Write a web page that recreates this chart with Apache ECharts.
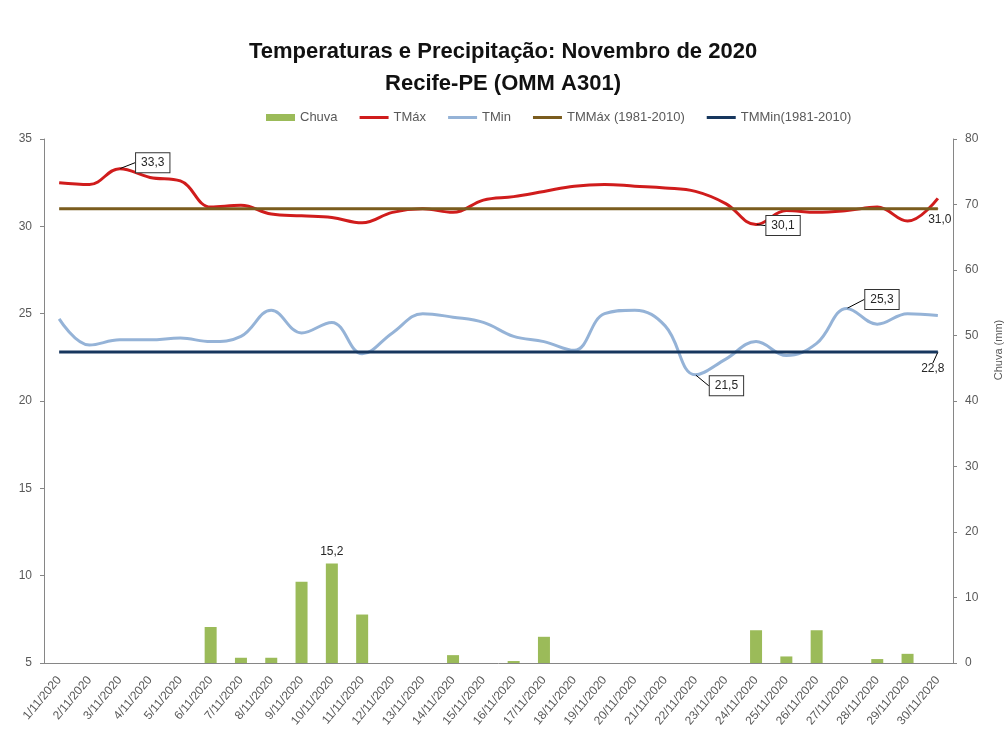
<!DOCTYPE html>
<html>
<head>
    <meta charset="utf-8">
    <title>Temperaturas e Precipitação: Novembro de 2020</title>
    <script src="https://cdn.jsdelivr.net/npm/echarts@6/dist/echarts.min.js"></script>
</head>
<body style="margin:0">
    <div id="container" style="width:1006px;height:735px;"></div>
    <script type="text/javascript">
        // dias do mes
        var dias = ['1/11/2020', '2/11/2020', '3/11/2020', '4/11/2020', '5/11/2020', '6/11/2020',
            '7/11/2020', '8/11/2020', '9/11/2020', '10/11/2020', '11/11/2020', '12/11/2020',
            '13/11/2020', '14/11/2020', '15/11/2020', '16/11/2020', '17/11/2020', '18/11/2020',
            '19/11/2020', '20/11/2020', '21/11/2020', '22/11/2020', '23/11/2020', '24/11/2020',
            '25/11/2020', '26/11/2020', '27/11/2020', '28/11/2020', '29/11/2020', '30/11/2020'];
        // chuva (mm)
        var chuva = [0, 0, 0, 0, 0, 5.5, 0.8, 0.8, 12.4, 15.2, 7.4, 0, 0, 1.2, 0,
            0.3, 4.0, 0, 0, 0, 0, 0, 0, 5.0, 1.0, 5.0, 0, 0.6, 1.4, 0];
        // temperatura maxima
        var tmax = [32.5, 32.4, 33.3, 32.8, 32.6, 31.1, 31.2, 30.7, 30.6, 30.5, 30.2, 30.8, 31.0, 30.8, 31.5,
            31.7, 32.0, 32.3, 32.4, 32.3, 32.2, 32.0, 31.3, 30.1, 30.9, 30.8, 30.9, 31.1, 30.3, 31.6];
        // temperatura minima
        var tmin = [24.7, 23.2, 23.5, 23.5, 23.6, 23.4, 23.7, 25.2, 23.9, 24.5, 22.7, 23.9, 25.0, 24.8, 24.5,
            23.7, 23.4, 22.9, 25.0, 25.2, 24.3, 21.5, 22.4, 23.4, 22.6, 23.3, 25.3, 24.4, 25.0, 24.9];
        // normais 1981-2010
        var tmmax = [31.0, 31.0, 31.0, 31.0, 31.0, 31.0, 31.0, 31.0, 31.0, 31.0, 31.0, 31.0, 31.0, 31.0, 31.0,
            31.0, 31.0, 31.0, 31.0, 31.0, 31.0, 31.0, 31.0, 31.0, 31.0, 31.0, 31.0, 31.0, 31.0, 31.0];
        var tmmin = [22.8, 22.8, 22.8, 22.8, 22.8, 22.8, 22.8, 22.8, 22.8, 22.8, 22.8, 22.8, 22.8, 22.8, 22.8,
            22.8, 22.8, 22.8, 22.8, 22.8, 22.8, 22.8, 22.8, 22.8, 22.8, 22.8, 22.8, 22.8, 22.8, 22.8];
        var eixoTemp = [5, 35, 5];
        var eixoChuva = [0, 80, 10];

        var fonte = 'Liberation Sans, Arial, sans-serif';
        var cinza = '#595959';
        var iconeLinha = 'path://M0,0L29,0L29,3L0,3Z';

        function virgula(p) {
            return Number(p.value).toFixed(1).replace('.', ',');
        }

        var caixa = {
            show: true, position: 'inside', formatter: virgula,
            fontFamily: fonte, fontSize: 12, color: '#262626',
            backgroundColor: '#fff', borderColor: '#333', borderWidth: 1, padding: [4, 5, 3, 5]
        };
        var solto = {
            show: true, position: 'inside', formatter: virgula,
            fontFamily: fonte, fontSize: 12, color: '#262626'
        };

        // marca so os pontos com rotulo
        function rotular(valores, idx, estilo) {
            return valores.map(function (v, i) {
                if (idx.indexOf(i) < 0) return v;
                return { value: v, symbol: 'circle', symbolSize: 1, label: estilo };
            });
        }

        // deslocamento dos rotulos [serie][indice]
        var desloc = {
            1: { 2: [33, -6], 23: [27, 1] },
            2: { 26: [35, -9], 21: [31, 11] },
            3: { 29: [2, 11] },
            4: { 29: [-5, 17] }
        };

        var myContainer = echarts.init(document.getElementById('container'));
        myContainer.setOption({
            animation: false,
            title: {
                text: 'Temperaturas e Precipitação: Novembro de 2020\nRecife-PE (OMM A301)',
                left: 'center',
                top: 31,
                textStyle: { fontFamily: fonte, fontSize: 22, fontWeight: 'bold', color: '#111', lineHeight: 32 }
            },
            legend: {
                left: 261,
                top: 106,
                itemWidth: 29,
                itemHeight: 7,
                itemGap: 22,
                textStyle: { fontFamily: fonte, fontSize: 13, color: cinza },
                data: [
                    { name: 'Chuva', icon: 'rect' },
                    { name: 'TMáx', icon: iconeLinha },
                    { name: 'TMin', icon: iconeLinha },
                    { name: 'TMMáx (1981-2010)', icon: iconeLinha },
                    { name: 'TMMin(1981-2010)', icon: iconeLinha }
                ]
            },
            grid: { left: 44, right: 53, top: 139, bottom: 72, containLabel: false, outerBoundsMode: 'none' },
            xAxis: {
                type: 'category',
                data: dias,
                boundaryGap: true,
                axisLine: { lineStyle: { color: '#868686' } },
                axisTick: { length: 5, lineStyle: { color: '#868686' } },
                axisLabel: {
                    rotate: 50, interval: 0, margin: 15,
                    fontFamily: fonte, fontSize: 12, color: cinza
                }
            },
            yAxis: [{
                type: 'value',
                min: eixoTemp[0], max: eixoTemp[1], interval: eixoTemp[2],
                splitLine: { show: false },
                axisLine: { show: true, lineStyle: { color: '#868686' } },
                axisTick: { show: true, length: 4, lineStyle: { color: '#868686' } },
                axisLabel: { fontFamily: fonte, fontSize: 12, color: cinza, margin: 12 }
            }, {
                type: 'value',
                position: 'right',
                min: eixoChuva[0], max: eixoChuva[1], interval: eixoChuva[2],
                name: 'Chuva (mm)',
                nameLocation: 'middle',
                nameRotate: 90,
                nameGap: 40,
                nameTextStyle: { fontFamily: fonte, fontSize: 11, color: cinza, padding: [0, 0, 0, 102] },
                splitLine: { show: false },
                axisLine: { show: true, lineStyle: { color: '#868686' } },
                axisTick: { show: true, length: 4, lineStyle: { color: '#868686' } },
                axisLabel: { fontFamily: fonte, fontSize: 12, color: cinza, margin: 12 }
            }],
            series: [{
                name: 'Chuva',
                type: 'bar',
                yAxisIndex: 1,
                barWidth: 12,
                itemStyle: { color: '#9BBB59' },
                data: chuva.map(function (v, i) {
                    if (i !== 9) return v;
                    return { value: v, label: { show: true, position: 'top', distance: 6, formatter: virgula, fontFamily: fonte, fontSize: 12, color: '#262626' } };
                })
            }, {
                name: 'TMáx',
                type: 'line',
                smooth: 0.4,
                symbol: 'none',
                color: '#D01C1C',
                lineStyle: { width: 3, color: '#D01C1C' },
                labelLine: { show: true, lineStyle: { color: '#000', width: 1 } },
                labelLayout: function (p) { var d = desloc[1][p.dataIndex] || [0, 0]; return { dx: d[0], dy: d[1] }; },
                data: rotular(tmax, [2, 23], caixa)
            }, {
                name: 'TMin',
                type: 'line',
                smooth: 0.4,
                symbol: 'none',
                color: '#95B3D7',
                lineStyle: { width: 3, color: '#95B3D7' },
                labelLine: { show: true, lineStyle: { color: '#000', width: 1 } },
                labelLayout: function (p) { var d = desloc[2][p.dataIndex] || [0, 0]; return { dx: d[0], dy: d[1] }; },
                data: rotular(tmin, [21, 26], caixa)
            }, {
                name: 'TMMáx (1981-2010)',
                type: 'line',
                symbol: 'none',
                color: '#7A5C1E',
                lineStyle: { width: 3, color: '#7A5C1E' },
                labelLayout: function (p) { var d = desloc[3][p.dataIndex] || [0, 0]; return { dx: d[0], dy: d[1] }; },
                data: rotular(tmmax, [29], solto)
            }, {
                name: 'TMMin(1981-2010)',
                type: 'line',
                symbol: 'none',
                color: '#17375E',
                lineStyle: { width: 3, color: '#17375E' },
                labelLine: { show: true, lineStyle: { color: '#000', width: 1 } },
                labelLayout: function (p) { var d = desloc[4][p.dataIndex] || [0, 0]; return { dx: d[0], dy: d[1] }; },
                data: rotular(tmmin, [29], solto)
            }]
        });
    </script>
</body>
</html>
